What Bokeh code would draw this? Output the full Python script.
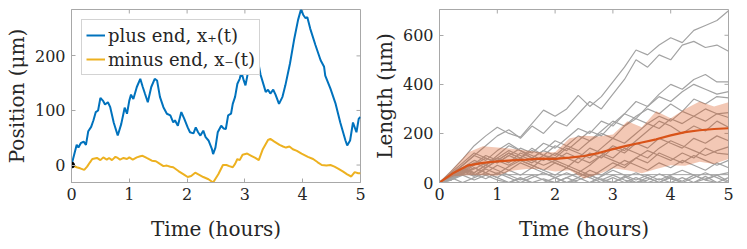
import math
from bokeh.plotting import figure
from bokeh.models import Range1d, Legend, LegendItem, FixedTicker
from bokeh.layouts import row
from bokeh.embed import file_html
from bokeh.resources import INLINE

# ---------------- data: left panel (one trajectory) ----------------
PLUS_T = [0, 0.09, 0.12, 0.16, 0.21, 0.25, 0.29, 0.34, 0.38, 0.42, 0.46, 0.50, 0.55, 0.58, 0.63, 0.67,
          0.73, 0.80, 0.86, 0.92, 0.96, 1.00, 1.03, 1.07, 1.13, 1.19, 1.23, 1.27, 1.32, 1.38, 1.44, 1.48,
          1.53, 1.59, 1.65, 1.71, 1.76, 1.79, 1.84, 1.90, 1.95, 2.01, 2.05, 2.11, 2.15, 2.19, 2.23, 2.28,
          2.32, 2.37, 2.43, 2.45, 2.49, 2.53, 2.59, 2.63, 2.67, 2.71, 2.76, 2.79, 2.83, 2.87, 2.91, 2.94,
          2.98, 3.01, 3.05, 3.10, 3.17, 3.22, 3.27, 3.36, 3.40, 3.44, 3.49, 3.53, 3.59, 3.65, 3.70, 3.78,
          3.85, 3.92, 3.97, 4.01, 4.05, 4.08, 4.13, 4.22, 4.31, 4.37, 4.39, 4.48, 4.57, 4.65, 4.74, 4.77,
          4.82, 4.87, 4.93, 4.97, 5.0]
PLUS_X = [0, 37, 32, 40, 43, 37, 62, 70, 82, 97, 100, 123, 117, 111, 115, 106,
          78, 54, 75, 105, 94, 118, 129, 121, 143, 158, 144, 131, 115, 143, 158, 155,
          125, 106, 94, 91, 78, 82, 72, 97, 85, 69, 60, 58, 69, 60, 54, 63,
          51, 45, 29, 20, 32, 60, 72, 67, 66, 91, 94, 112, 125, 149, 158, 170,
          155, 146, 168, 188, 205, 195, 166, 134, 138, 131, 138, 129, 112, 125, 146, 186,
          229, 266, 285, 275, 269, 271, 250, 220, 192, 180, 164, 140, 112, 78, 45, 36,
          45, 78, 60, 85, 88]
MINUS_T = [0, 0.09, 0.15, 0.22, 0.27, 0.32, 0.36, 0.44, 0.50, 0.55, 0.61, 0.65, 0.70, 0.76, 0.80, 0.84,
           0.90, 0.96, 1.00, 1.06, 1.13, 1.19, 1.23, 1.30, 1.39, 1.46, 1.53, 1.59, 1.65, 1.71, 1.76, 1.85,
           1.94, 2.01, 2.07, 2.14, 2.21, 2.28, 2.37, 2.45, 2.54, 2.62, 2.68, 2.73, 2.79, 2.83, 2.87, 2.91,
           2.96, 3.04, 3.11, 3.18, 3.24, 3.31, 3.40, 3.44, 3.51, 3.60, 3.66, 3.71, 3.77, 3.83, 3.90, 3.98,
           4.09, 4.18, 4.26, 4.33, 4.41, 4.48, 4.55, 4.62, 4.70, 4.77, 4.84, 4.90, 4.96, 5.0]
MINUS_X = [0, -4, -6, -9, -3, 5, 11, 13, 9, 14, 10, 13, 9, 15, 13, 10,
           13, 11, 14, 10, 14, 16, 17, 13, 8, 7, 2, -2, -1, -3, -4, -11,
           -17, -22, -20, -14, -18, -22, -26, -32, -17, 0, 0, -2, -4, 2, 11, 9,
           19, 21, 17, 13, 9, 29, 46, 48, 43, 37, 34, 32, 34, 29, 26, 21,
           15, 11, 5, 0, -1, 0, -3, -7, -12, -17, -21, -13, -15, -15]
ORIGIN_T = [0]
ORIGIN_X = [0]

X_RANGE = [0, 5]
LEFT_Y_RANGE = [-32, 285]
RIGHT_Y_RANGE = [0, 705]
X_TICKS = [0, 1, 2, 3, 4, 5]
LEFT_Y_TICKS = [0, 100, 200]
RIGHT_Y_TICKS = [0, 200, 400, 600]

# ---------------- data: right panel (ensemble of lengths) ----------------
TRAJ_T = [0, 0.2, 0.4, 0.6, 0.8, 1.0, 1.2, 1.4, 1.6, 1.8, 2.0, 2.2, 2.4, 2.6, 2.8, 3.0,
          3.2, 3.4, 3.6, 3.8, 4.0, 4.2, 4.4, 4.6, 4.8, 5.0]
TRAJ_1 = [0, 45, 95, 150, 190, 225, 200, 185, 240, 295, 270, 300, 355, 310, 350, 410, 470, 540, 520, 560, 590, 570, 620, 640, 660, 700]
TRAJ_2 = [0, 30, 70, 110, 150, 190, 215, 180, 230, 200, 250, 230, 280, 330, 300, 360, 420, 500, 470, 520, 500, 560, 575, 550, 560, 535]
TRAJ_3 = [0, 20, 50, 80, 60, 90, 120, 100, 140, 110, 150, 130, 170, 210, 190, 240, 280, 330, 310, 360, 400, 380, 420, 440, 410, 410]
TRAJ_4 = [0, 10, 40, 70, 100, 80, 110, 140, 120, 160, 140, 180, 220, 200, 250, 230, 280, 260, 310, 350, 330, 370, 400, 380, 360, 370]
TRAJ_5 = [0, 25, 60, 40, 70, 100, 80, 120, 100, 130, 170, 150, 190, 170, 210, 250, 230, 270, 300, 280, 320, 290, 340, 320, 350, 345]
TRAJ_6 = [0, 35, 70, 110, 90, 130, 160, 130, 100, 130, 110, 150, 130, 170, 200, 180, 230, 260, 240, 270, 250, 290, 270, 300, 280, 285]
TRAJ_7 = [0, 15, 45, 75, 110, 90, 120, 100, 130, 110, 100, 140, 120, 100, 140, 180, 160, 200, 240, 220, 260, 240, 270, 250, 280, 265]
TRAJ_8 = [0, 20, 50, 30, 60, 90, 70, 100, 80, 110, 90, 120, 100, 80, 110, 150, 130, 170, 210, 250, 230, 200, 230, 210, 250, 225]
TRAJ_9 = [0, 30, 60, 90, 70, 110, 150, 130, 110, 90, 120, 100, 80, 120, 100, 140, 120, 160, 140, 180, 160, 140, 180, 160, 190, 170]
TRAJ_10 = [0, 10, 35, 60, 40, 70, 50, 80, 60, 100, 80, 60, 100, 140, 120, 100, 140, 120, 100, 140, 170, 150, 130, 110, 130, 145]
TRAJ_11 = [0, 20, 45, 25, 55, 35, 65, 90, 70, 50, 80, 60, 40, 70, 110, 90, 70, 100, 130, 110, 90, 120, 100, 140, 120, 115]
TRAJ_12 = [0, 40, 80, 120, 100, 80, 110, 90, 70, 50, 30, 60, 40, 20, 50, 80, 60, 100, 80, 120, 100, 80, 110, 90, 70, 90]
TRAJ_13 = [0, 15, 40, 60, 40, 20, 50, 30, 60, 40, 20, 40, 20, 50, 30, 60, 90, 70, 50, 80, 60, 90, 70, 50, 80, 60]
TRAJ_14 = [0, 25, 55, 35, 15, 40, 20, 0, 20, 40, 20, 0, 20, 0, 25, 50, 30, 10, 30, 10, 30, 50, 30, 10, 30, 40]
TRAJ_15 = [0, 10, 30, 10, 30, 10, 0, 20, 0, 15, 0, 20, 40, 20, 0, 20, 0, 20, 0, 15, 0, 20, 0, 15, 30, 5]
TRAJ_16 = [0, 20, 0, 20, 40, 20, 0, 15, 0, 0, 20, 0, 10, 30, 10, 0, 20, 40, 20, 0, 20, 0, 0, 25, 0, 0]
TRAJ_17 = [0, 30, 60, 40, 70, 50, 30, 10, 30, 10, 0, 20, 0, 0, 15, 0, 25, 0, 10, 35, 15, 0, 20, 40, 20, 0]
TRAJ_18 = [0, 15, 35, 55, 80, 100, 130, 110, 90, 70, 90, 70, 50, 30, 10, 30, 10, 0, 20, 0, 25, 5, 30, 10, 0, 20]
TRAJECTORIES = [TRAJ_1, TRAJ_2, TRAJ_3, TRAJ_4, TRAJ_5, TRAJ_6, TRAJ_7, TRAJ_8, TRAJ_9,
                TRAJ_10, TRAJ_11, TRAJ_12, TRAJ_13, TRAJ_14, TRAJ_15, TRAJ_16, TRAJ_17, TRAJ_18]
FLAT_T = [0.2, 5.0]
FLAT_L = [32, 32]

BAND_T = [0, 0.25, 0.5, 0.75, 1.0, 1.25, 1.5, 1.75, 2.0, 2.25, 2.5, 2.75, 3.0, 3.25, 3.5, 3.75,
          4.0, 4.25, 4.5, 4.75, 5.0]
BAND_UPPER = [0, 61, 123, 148, 143, 138, 130, 123, 123, 180, 191, 187, 196, 250, 225, 290, 262, 300, 330, 310, 327]
BAND_LOWER = [0, 25, 30, 30, 27, 48, 55, 55, 45, 50, 15, 34, 58, 50, 38, 55, 70, 68, 85, 75, 96]
MEAN_LENGTH = [0, 40, 70, 80, 86, 90, 93, 97, 96, 101, 108, 120, 136, 150, 163, 176, 192, 205, 213, 218, 221]

# ---------------- styling ----------------
FONT = "DejaVu Serif"
TEXT_COLOR = "#262626"
AXIS_COLOR = "#a8a8a8"
BLUE = "#0072BD"
YELLOW = "#EDB120"
ORANGE = "#D95319"
GRAY = "#a3a3a3"


def style_axes(p, yticks, y_range):
    p.xgrid.visible = False
    p.ygrid.visible = False
    p.outline_line_color = AXIS_COLOR
    p.outline_line_width = 1
    p.background_fill_color = "white"
    p.border_fill_color = "white"
    p.xaxis.ticker = FixedTicker(ticks=X_TICKS)
    p.yaxis.ticker = FixedTicker(ticks=yticks)
    for ax in p.xaxis + p.yaxis:
        ax.axis_line_color = AXIS_COLOR
        ax.major_tick_line_color = AXIS_COLOR
        ax.major_tick_in = 4
        ax.major_tick_out = 0
        ax.minor_tick_line_color = None
        ax.major_label_text_font = FONT
        ax.major_label_text_font_size = "16px"
        ax.major_label_text_color = TEXT_COLOR
        ax.axis_label_text_font = FONT
        ax.axis_label_text_font_size = "20px"
        ax.axis_label_text_font_style = "normal"
        ax.axis_label_text_color = TEXT_COLOR
    p.xaxis.major_label_standoff = 5
    p.xaxis.axis_label_standoff = 14
    p.yaxis.major_label_standoff = 6
    p.yaxis.axis_label_standoff = 3
    # inward box ticks on the top and right edges (MATLAB "box on")
    p.ray(x=X_TICKS, y=[y_range[1]] * len(X_TICKS), length=4, length_units="screen",
          angle=-math.pi / 2, line_color=AXIS_COLOR, line_width=1)
    p.ray(x=[X_RANGE[1]] * len(yticks), y=yticks, length=4, length_units="screen",
          angle=math.pi, line_color=AXIS_COLOR, line_width=1)


# ---------------- left figure ----------------
p1 = figure(frame_width=289, frame_height=173, output_backend="svg", toolbar_location=None,
            x_range=Range1d(*X_RANGE), y_range=Range1d(*LEFT_Y_RANGE),
            min_border_left=71, min_border_right=6, min_border_top=9, min_border_bottom=62,
            x_axis_label="Time (hours)", y_axis_label="Position (μm)")
style_axes(p1, LEFT_Y_TICKS, LEFT_Y_RANGE)
r_plus = p1.line(PLUS_T, PLUS_X, line_color=BLUE, line_width=2)
r_minus = p1.line(MINUS_T, MINUS_X, line_color=YELLOW, line_width=2)
p1.scatter(ORIGIN_T, ORIGIN_X, marker="circle", size=6, fill_color="black", line_color="black")

legend = Legend(items=[LegendItem(label="plus end, x₊(t)", renderers=[r_plus]),
                       LegendItem(label="minus end, x₋(t)", renderers=[r_minus])],
                location="top_left", margin=10, padding=4, spacing=2,
                glyph_width=19, glyph_height=22, label_height=22, label_standoff=3,
                label_text_font=FONT, label_text_font_size="18px", label_text_color=TEXT_COLOR,
                border_line_color=AXIS_COLOR, border_line_width=1,
                background_fill_color="white", background_fill_alpha=1.0)
p1.add_layout(legend)

# ---------------- right figure ----------------
p2 = figure(frame_width=289, frame_height=173, output_backend="svg", toolbar_location=None,
            x_range=Range1d(*X_RANGE), y_range=Range1d(*RIGHT_Y_RANGE),
            min_border_left=73, min_border_right=12, min_border_top=9, min_border_bottom=62,
            x_axis_label="Time (hours)", y_axis_label="Length (μm)")
style_axes(p2, RIGHT_Y_TICKS, RIGHT_Y_RANGE)
for traj in TRAJECTORIES:
    p2.line(TRAJ_T, traj, line_color=GRAY, line_width=1.2)
p2.line(FLAT_T, FLAT_L, line_color=GRAY, line_width=1)
p2.varea(x=BAND_T, y1=BAND_LOWER, y2=BAND_UPPER, fill_color=ORANGE, fill_alpha=0.32)
p2.line(BAND_T, MEAN_LENGTH, line_color=ORANGE, line_width=2.2)

layout = row(p1, p2)
open("out.html", "w").write(file_html(layout, INLINE))
